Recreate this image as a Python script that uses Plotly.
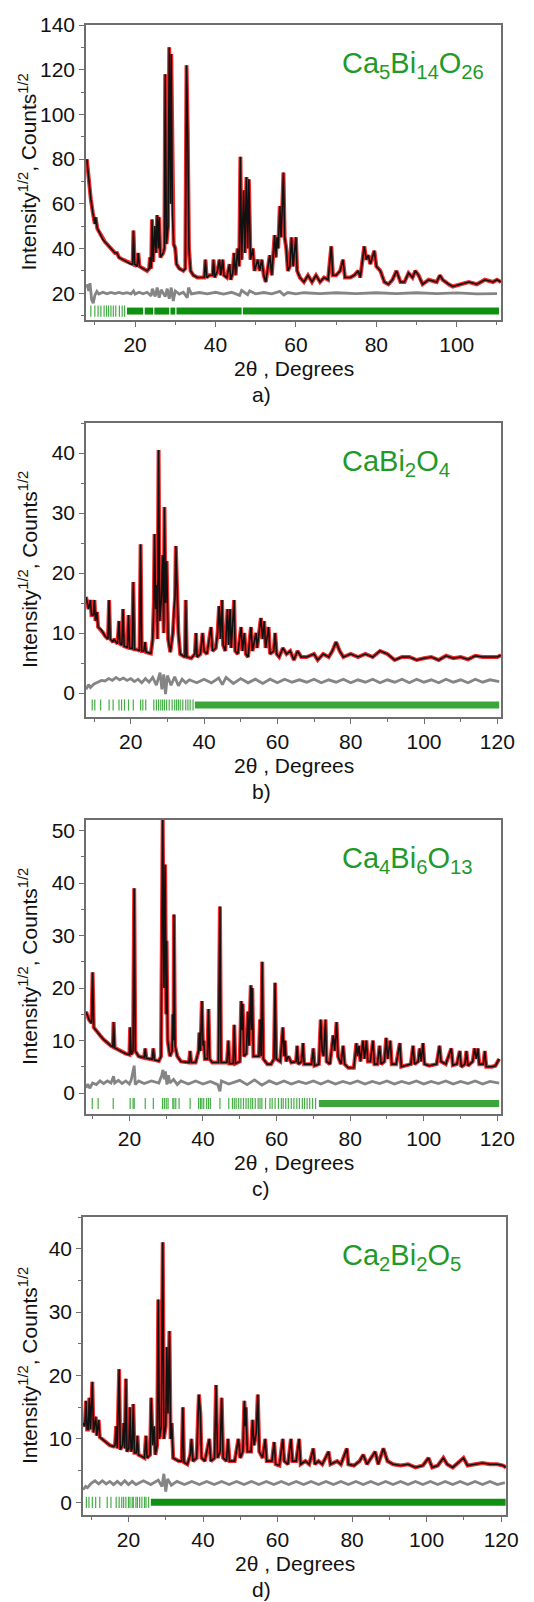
import plotly.graph_objects as go

# ---------------- data ----------------
# a) Ca5Bi14O26  (2theta, sqrt intensity) vertices of the fitted profile
a_profile = [(8.0, 80), (8.5, 70), (9.0, 62), (9.5, 56), (10.0, 51), (10.2, 54), (10.6, 49), (11.2, 47),
             (12, 44), (12.5, 43), (13, 42), (14, 40), (15, 38), (15.5, 38), (16, 36), (17, 35), (18, 34),
             (19, 33), (19.4, 33), (19.6, 48), (19.9, 33), (20.5, 32), (20.8, 38), (21.1, 32), (22, 31),
             (23, 30), (23.5, 31), (23.7, 36), (24.0, 31), (24.2, 53), (24.5, 34), (24.9, 50), (25.2, 38),
             (25.5, 55), (25.8, 40), (26.0, 54), (26.3, 36), (27.0, 38), (27.3, 40), (27.5, 118), (27.8, 42),
             (28.2, 50), (28.5, 130), (28.8, 60), (29.0, 127), (29.3, 55), (29.6, 42), (30.0, 40), (30.3, 33),
             (31, 31), (32, 30), (32.5, 31), (32.8, 122), (33.1, 92), (33.4, 40), (33.8, 30), (34.5, 28),
             (35.5, 27), (36.5, 27), (37.2, 27), (37.5, 35), (37.8, 27), (38.5, 28), (39.3, 28), (39.5, 35),
             (39.8, 27), (40.5, 30), (41.0, 35), (41.3, 28), (41.8, 35), (42.1, 28), (42.8, 27), (43.5, 33),
             (43.8, 26), (44.3, 29), (44.6, 38), (45.0, 28), (45.5, 40), (45.9, 32), (46.2, 81), (46.5, 35),
             (47.0, 66), (47.3, 38), (47.7, 72), (48.0, 40), (48.3, 71), (48.7, 35), (49.3, 40), (49.7, 30),
             (50.5, 35), (51, 30), (51.5, 35), (52, 28), (52.5, 25), (53.5, 37), (54.0, 28), (54.7, 46),
             (55.0, 36), (55.3, 45), (55.6, 40), (56.0, 59), (56.3, 45), (56.6, 58), (56.9, 74), (57.2, 45),
             (57.6, 40), (58.0, 30), (58.5, 32), (58.9, 45), (59.3, 32), (60.0, 45), (60.3, 30), (61, 27),
             (62, 25), (63, 28), (64, 25), (65, 28), (66, 25), (67, 27), (68, 26), (68.8, 41), (69.2, 28),
             (70, 28), (71.0, 30), (71.7, 35), (72.2, 27), (73.5, 27), (74.5, 28), (75.5, 30), (76, 27),
             (77.0, 41), (77.5, 35), (78, 37), (78.5, 33), (79.5, 39), (80, 32), (81, 30), (82, 25), (83, 24),
             (84, 26), (85, 30), (86, 25), (87, 25), (88, 29), (89, 27), (89.7, 30), (90.5, 28), (91.5, 24),
             (93, 26), (95, 25), (95.8, 28), (96.5, 26), (98, 24), (99, 23), (101, 24), (103, 25), (105, 24),
             (107, 26), (109, 25), (110, 26), (111, 25)]
a_diff = [(8, 24), (8.5, 21), (8.8, 24.5), (9.2, 17), (9.6, 15.5), (10, 19), (10.5, 20.8), (11, 19.6),
          (12, 20.4), (13, 19.7), (14, 20.3), (15, 19.8), (16, 20.3), (17, 19.8), (18, 20.2), (19, 19.7),
          (19.6, 21), (20, 19.6), (21, 20.4), (22, 19.7), (23, 20.4), (24, 18.8), (24.3, 22), (25, 18.5),
          (25.5, 22.5), (26, 18), (26.5, 21.5), (27.5, 18.5), (28, 22), (28.5, 17.5), (29, 22.5), (29.5, 16.5),
          (30, 21), (31, 19.6), (32, 20.4), (33, 18), (33.3, 22.5), (34, 19.7), (36, 20.3), (38, 19.7),
          (40, 20.4), (42, 19.6), (44, 20.4), (46, 19), (46.5, 21.2), (48, 19.3), (48.5, 21), (50, 19.7),
          (52, 20.3), (54, 19.7), (56, 20.8), (57, 19.2), (58, 20.3), (60, 19.7), (62, 20.2), (66, 19.8),
          (70, 20.2), (75, 19.8), (80, 20.2), (85, 19.8), (90, 20.2), (95, 19.8), (100, 20.1), (105, 19.7),
          (110, 19.8)]
a_refl = [9.0, 10.0, 10.8, 11.5, 12.3, 12.9, 13.4, 14.0, 14.6, 15.2, 16.1, 16.8, 17.4]
a_refl_bands = [(18, 22), (22.4, 24.5), (24.8, 28.5), (28.8, 30), (30.3, 46.5), (46.8, 110.5)]

# b) CaBi2O4
b_profile = [(7.8, 16), (8.5, 14), (9.0, 15.5), (9.3, 13), (9.8, 13), (10.1, 15.5), (10.4, 12), (10.8, 13.5),
             (11.1, 11), (12, 10.5), (12.5, 10), (13, 9.5), (13.8, 9), (14.1, 15.5), (14.4, 9), (15.2, 8.5),
             (15.4, 9), (16.4, 8.2), (16.8, 12), (17.1, 8.2), (17.6, 8), (17.9, 14), (18.2, 7.8), (19.1, 7.6),
             (19.4, 13), (19.7, 7.5), (20.4, 7.4), (20.7, 18.5), (21.0, 7.3), (22.0, 7.2), (22.4, 7),
             (22.7, 24.8), (23.0, 7), (23.6, 7), (23.9, 8.5), (24.2, 6.8), (25.5, 6.6), (26.0, 9), (26.3, 15),
             (26.5, 26.5), (26.8, 14), (27.1, 18), (27.3, 9), (27.6, 40.5), (27.9, 12), (28.3, 15), (28.7, 23),
             (29.0, 10), (29.2, 31), (29.5, 15), (29.8, 22), (30.2, 9), (30.8, 6.8), (31.5, 10), (31.8, 14),
             (32.1, 16), (32.3, 24.5), (32.6, 19), (33.0, 10), (33.5, 6.5), (34.5, 6), (34.8, 6), (35.0, 15.5),
             (35.3, 6), (36.5, 5.8), (37.5, 6.5), (37.8, 10), (38.1, 6), (39.0, 6.5), (39.6, 10), (40.0, 7),
             (40.8, 6.5), (41.9, 11), (42.3, 7), (43.2, 7.5), (43.7, 10), (44.1, 14.5), (44.5, 9), (44.9, 15.5),
             (45.2, 8), (45.8, 7), (46.4, 14), (46.7, 8), (47.1, 14), (47.4, 7.5), (48.2, 15.5), (48.5, 7),
             (49.2, 6.5), (50.1, 11), (50.5, 7), (51.0, 10), (51.4, 6.5), (52.0, 6), (52.8, 11), (53.2, 7),
             (54.2, 10), (54.5, 7.5), (55.0, 10), (55.5, 12.5), (56.0, 9), (56.4, 12), (56.8, 7.5), (57.6, 11),
             (58.0, 6.5), (59.0, 7), (59.4, 10), (59.8, 6.5), (60.5, 6), (61.5, 7.5), (62.5, 6.5), (63.5, 7),
             (64.5, 5.5), (65.5, 7), (66.5, 6), (68, 6), (70, 6.5), (71, 5.5), (72.5, 6.5), (74, 6), (75, 7),
             (76, 8.5), (77, 7), (78, 6), (80, 6.5), (82, 6), (84, 6.5), (86, 6), (88, 7), (90, 6.5), (92, 5.5),
             (94, 6), (96, 6), (98, 5.5), (100, 5.8), (102, 6), (104, 5.5), (106, 6.2), (108, 5.8), (110, 6),
             (112, 5.6), (114, 6.2), (116, 6), (118, 6), (120, 6), (121, 6.3)]
b_diff = [(7.8, 0.6), (8.5, 1.4), (9, 0.9), (10, 1.5), (11, 1.8), (12, 2.1), (13, 2.0), (14, 2.4), (15, 2.1),
          (16, 2.6), (17, 2.2), (18, 2.5), (19, 2.1), (20, 2.4), (21, 1.9), (22, 2.3), (23, 1.7), (24, 2.4),
          (25, 1.8), (26, 2.6), (27, 1.3), (28, 3.4), (28.5, 0.6), (29, 3.1), (29.5, -0.2), (30, 2.9),
          (31, 1.3), (32, 2.7), (33, 1.2), (34, 2.3), (35, 1.7), (36, 2.2), (38, 1.7), (40, 2.3), (42, 1.7),
          (44, 2.5), (45, 1.4), (46, 2.6), (48, 1.6), (50, 2.4), (52, 1.7), (54, 2.3), (56, 1.6), (58, 2.3),
          (60, 1.7), (62, 2.3), (64, 1.8), (66, 2.2), (68, 1.8), (70, 2.3), (72, 1.7), (74, 2.2), (76, 1.8),
          (78, 2.3), (80, 1.7), (82, 2.2), (84, 1.8), (86, 2.3), (88, 1.7), (90, 2.2), (92, 1.8), (94, 2.3),
          (96, 1.7), (98, 2.3), (100, 1.8), (102, 2.2), (104, 1.7), (106, 2.3), (108, 1.8), (110, 2.2),
          (112, 1.7), (114, 2.3), (116, 1.8), (118, 2.2), (120.5, 1.9)]
b_refl = [9.5, 10.2, 11.8, 14.1, 15.2, 16.8, 17.5, 18.3, 19.4, 20.7, 22.7, 23.3, 24.1, 26.3, 27.0, 27.6,
          28.2, 28.7, 29.2, 29.8, 30.5, 31.3, 32.0, 32.5, 33.0, 33.5, 34.2, 35.0, 35.6, 36.2, 37.0]
b_refl_bands = [(37.5, 120.5)]

# c) Ca4Bi6O13
c_profile = [(8.2, 15.5), (9, 14), (9.7, 13.3), (10.0, 23), (10.3, 12.5), (11, 11.8), (12, 11), (13, 10.2),
             (14, 9.5), (15, 9), (15.5, 8.8), (15.7, 13.5), (16.0, 8.6), (17, 8.2), (18, 7.8), (19, 7.5),
             (20.0, 7.3), (20.2, 12.5), (20.5, 7.3), (21.0, 8), (21.3, 39), (21.6, 8), (22.5, 7), (24.0, 6.7),
             (24.3, 8.5), (24.6, 6.6), (26.2, 6.4), (26.5, 8.5), (26.8, 6.3), (28, 6.1), (28.6, 7), (29.05, 52),
             (29.4, 20), (29.7, 43.5), (30.0, 15), (30.1, 29), (30.4, 10), (31, 7), (31.6, 8), (31.8, 15),
             (32.0, 10), (32.1, 34), (32.4, 9), (33, 7), (34, 6), (35.5, 5.8), (36.2, 5.8), (36.5, 8),
             (36.8, 5.8), (38, 5.8), (38.8, 8), (39.0, 11.5), (39.3, 8), (39.7, 17.5), (40.0, 9), (40.2, 10),
             (40.5, 6.5), (41.2, 6.5), (41.5, 16), (41.8, 6.5), (42.5, 5.8), (44.2, 5.8), (44.6, 35.5),
             (44.9, 5.8), (46.5, 5.8), (46.9, 10), (47.2, 5.6), (48.2, 5.6), (48.5, 13), (48.8, 5.6), (50.0, 6),
             (50.4, 17.5), (50.6, 12), (50.8, 17), (51.1, 7), (51.8, 7.5), (52.2, 15.5), (52.5, 9), (53.0, 20.5),
             (53.2, 12), (53.4, 20), (53.7, 7), (55.2, 7), (55.5, 14), (55.8, 7), (56.1, 25), (56.4, 6.5),
             (57.5, 5.5), (58.5, 5.5), (59.3, 6.5), (59.6, 21), (59.9, 6.5), (61.0, 6), (61.7, 12.5), (62.0, 7),
             (62.3, 10), (62.6, 6), (63.2, 7), (64.0, 5.8), (65.3, 6), (65.6, 9), (65.9, 5.5), (66.8, 6),
             (67.2, 9.5), (67.5, 5.5), (69.5, 5.5), (70.0, 8.5), (70.3, 5.2), (71.5, 5.5), (72.0, 14), (72.4, 8),
             (72.8, 7), (73.3, 14), (73.6, 6), (74.5, 5.5), (75.4, 11), (75.8, 8), (76.3, 13.5), (76.7, 7),
             (77.5, 5.5), (78.1, 9), (78.5, 5.5), (79.5, 4.8), (81.0, 4.8), (81.7, 9.5), (82.0, 7), (82.4, 9),
             (82.8, 6), (83.5, 10), (83.9, 6.5), (84.4, 10), (84.8, 6), (85.5, 6), (86.2, 10), (86.6, 5.5),
             (87.4, 5.5), (88.0, 9), (88.4, 5.5), (89.3, 6), (89.8, 10.5), (90.2, 6.5), (90.9, 10), (91.3, 5.5),
             (92.5, 5.5), (93.5, 9.5), (93.9, 5), (95.5, 5.3), (96.5, 5.5), (97.1, 9), (97.5, 5.5), (98.5, 6),
             (98.9, 8.5), (99.3, 6), (99.8, 9.5), (100.2, 5.5), (101.5, 5.2), (103.5, 5.5), (104.3, 9),
             (104.7, 6), (106, 5.5), (107.5, 8.5), (107.9, 5.3), (109, 5.5), (109.8, 8), (110.2, 5),
             (111.2, 5.5), (111.6, 8), (112, 5.2), (113.3, 6), (113.8, 8.5), (114.3, 6.5), (114.7, 8.5),
             (115.1, 5.5), (116.2, 5.5), (116.6, 8), (117, 5), (118.5, 5), (119.5, 5.2), (120.5, 6.5)]
c_diff = [(8.2, 1.0), (8.7, 1.7), (9.2, 0.9), (10, 1.9), (11, 1.6), (12, 2.3), (13, 1.8), (14, 2.3), (15, 1.9),
          (15.7, 3.2), (16, 1.9), (17, 2.4), (18, 1.8), (19, 2.3), (20, 1.7), (20.5, 2.5), (21.3, 5.2),
          (21.6, 1.6), (22.5, 2.3), (24, 1.8), (26, 2.3), (28, 1.9), (28.8, 3.4), (29.1, 4.4), (29.5, 2.6),
          (29.8, 4.1), (30.2, 1.6), (30.6, 3.4), (31, 1.9), (32, 2.6), (33, 1.6), (34, 2.3), (36, 1.7),
          (38, 2.3), (40, 1.7), (42, 2.2), (44, 1.6), (44.6, 0.3), (45, 2.3), (47, 1.7), (50, 2.4), (52, 1.6),
          (54, 2.5), (56, 1.5), (58, 2.3), (60, 1.7), (62, 2.3), (64, 1.7), (66, 2.2), (68, 1.8), (70, 2.3),
          (72, 1.7), (74, 2.3), (76, 1.7), (78, 2.2), (80, 1.8), (82, 2.3), (84, 1.7), (86, 2.2), (88, 1.8),
          (90, 2.3), (92, 1.7), (94, 2.2), (96, 1.8), (98, 2.3), (100, 1.7), (102, 2.2), (104, 1.8),
          (106, 2.3), (108, 1.7), (110, 2.2), (112, 1.8), (114, 2.3), (116, 1.7), (118, 2.2), (120.5, 1.9)]
c_refl = [9.9, 11.5, 15.6, 20.2, 21.0, 21.3, 24.3, 26.5, 29.0, 29.5, 30.0, 30.5, 31.8, 32.1, 32.6, 33.5,
          36.5, 38.8, 39.3, 39.7, 40.2, 41.0, 41.5, 42.0, 44.6, 47.0, 48.0, 48.5, 49.0, 49.7, 50.3, 51.0,
          51.7, 52.3, 53.0, 53.5, 54.2, 55.0, 55.5, 56.0, 57.0, 58.2, 58.8, 59.6, 60.5, 61.3, 61.8, 62.5,
          63.2, 64.0, 64.7, 65.5, 66.2, 67.0, 67.6, 68.3, 69.0, 69.8, 70.6]
c_refl_bands = [(71.5, 120.5)]

# d) Ca2Bi2O5
d_profile = [(7.8, 12.5), (8.3, 12), (8.6, 16), (8.9, 11.5), (9.2, 11.5), (9.5, 16.5), (9.8, 11.5), (10.3, 19),
             (10.6, 11), (11.2, 13.5), (11.5, 10.5), (12.0, 13), (12.3, 10.3), (13, 10), (14, 9.5), (15, 9),
             (16, 8.8), (16.4, 9), (16.7, 12), (17.0, 8.5), (17.5, 21), (17.8, 8.3), (18.4, 9), (18.7, 12.5),
             (19.0, 8.5), (19.3, 19.5), (19.6, 8), (20.1, 8.5), (20.4, 15), (20.7, 8), (21.0, 8.5), (21.3, 15.5),
             (21.6, 7.8), (22.1, 7.8), (22.4, 10.5), (22.7, 7.5), (24.3, 7), (24.7, 10.5), (25.0, 7), (25.8, 7.5),
             (26.1, 16.5), (26.5, 9), (26.9, 12), (27.2, 7.5), (27.7, 9), (28.0, 32), (28.3, 10), (28.8, 12),
             (29.2, 41), (29.5, 10), (30.0, 12), (30.3, 24.5), (30.6, 14), (31.0, 27), (31.3, 10), (31.6, 12.5),
             (32.0, 7), (33.5, 6.5), (34.3, 6.5), (34.6, 15), (34.9, 6.3), (35.8, 6), (36.6, 7.5), (36.9, 10),
             (37.3, 6.5), (38.3, 7), (38.7, 14), (38.9, 17), (39.3, 14), (39.6, 7), (40.5, 6.5), (41.0, 8),
             (41.7, 10), (42.1, 6.5), (43.1, 7), (43.5, 18.5), (43.9, 7), (44.6, 8), (45.0, 16.5), (45.4, 7),
             (46.3, 6.5), (46.7, 10), (47.1, 6.5), (48.5, 6.5), (49.5, 10), (50.0, 7), (50.7, 8), (51.1, 16),
             (51.3, 12), (51.5, 15), (51.9, 8), (52.9, 8), (53.3, 13), (53.7, 9), (54.3, 11), (54.7, 17),
             (55.1, 8), (56.0, 7), (56.7, 10), (57.1, 6.5), (58.5, 6.5), (59.1, 9.5), (59.5, 6), (60.5, 5.8),
             (61.4, 10), (61.8, 6.5), (62.8, 6), (63.6, 10), (64.0, 6.5), (65.0, 6.5), (65.8, 10), (66.2, 6),
             (67.5, 6.5), (68.5, 6), (69.6, 8.5), (70.0, 6), (71, 6.5), (72, 6), (73.7, 8), (74.2, 6), (76, 6.5),
             (77, 6), (78.6, 8.5), (79, 6), (80.5, 5.8), (82, 6.5), (83, 7.5), (84, 6), (86.2, 8), (87, 6),
             (88.4, 8.5), (89.5, 6.5), (91, 6), (93, 5.8), (95, 6), (97, 5.5), (99, 5.8), (100.5, 7),
             (101.5, 5.5), (103, 5.8), (104.5, 7), (105.5, 6), (107, 5.5), (109.9, 7), (111, 5.8), (113, 6),
             (115, 6.2), (117, 6), (119, 6), (120.5, 5.8), (121.3, 5.5)]
d_diff = [(7.8, 2.0), (8.5, 2.5), (9, 2.3), (10, 3.0), (11, 3.4), (12, 2.9), (13, 3.4), (14, 2.9), (15, 3.3),
          (16, 2.8), (17, 3.3), (18, 2.8), (19, 3.4), (20, 2.8), (21, 3.3), (22, 2.8), (24, 3.4), (26, 2.8),
          (28, 3.5), (29, 2.5), (29.5, 4.5), (30, 1.7), (30.5, 3.7), (31.5, 2.7), (33, 3.3), (35, 2.8),
          (37, 3.3), (39, 2.8), (41, 3.3), (43, 2.8), (45, 3.3), (47, 2.8), (49, 3.3), (51, 2.8), (53, 3.3),
          (55, 2.8), (57, 3.3), (59, 2.8), (61, 3.3), (63, 2.8), (65, 3.3), (67, 2.8), (69, 3.3), (71, 2.8),
          (73, 3.3), (75, 2.8), (77, 3.3), (79, 2.8), (81, 3.3), (83, 2.8), (85, 3.3), (87, 2.8), (89, 3.3),
          (91, 2.8), (93, 3.3), (95, 2.8), (97, 3.3), (99, 2.8), (101, 3.3), (103, 2.8), (105, 3.3),
          (107, 2.8), (109, 3.3), (111, 2.8), (113, 3.3), (115, 2.8), (117, 3.3), (119, 2.8), (121, 3.1)]
d_refl = [8.7, 9.4, 10.3, 11.2, 12.3, 14.3, 15.3, 16.7, 17.5, 18.2, 18.7, 19.3, 20.0, 20.4, 21.0, 21.3,
          22.0, 22.4, 23.0, 23.6, 24.3, 24.7, 25.4]
d_refl_bands = [(26, 121.2)]

formulas = ["Ca<sub>5</sub>Bi<sub>14</sub>O<sub>26</sub>", "CaBi<sub>2</sub>O<sub>4</sub>",
            "Ca<sub>4</sub>Bi<sub>6</sub>O<sub>13</sub>", "Ca<sub>2</sub>Bi<sub>2</sub>O<sub>5</sub>"]
captions = ["a)", "b)", "c)", "d)"]
refl_level = [12, -2, -2, 0]
x_ranges = [[7.8, 111], [7.8, 121], [8.2, 121], [7.8, 121.3]]
y_ranges = [[8, 140], [-4, 45], [-4, 52], [-2, 45]]
y_dtick = [20, 10, 10, 10]

panels = [(a_profile, a_diff, a_refl, a_refl_bands), (b_profile, b_diff, b_refl, b_refl_bands),
          (c_profile, c_diff, c_refl, c_refl_bands), (d_profile, d_diff, d_refl, d_refl_bands)]

# ---------------- layout geometry (page pixels) ----------------
PAGE_W, PAGE_H = 534, 1602
OFF = 8   # default body margin of the html page
W, H = PAGE_W - OFF, PAGE_H - OFF
frames = [(86, 501, 25, 320), (86, 501, 423, 717), (86, 501, 820, 1114), (83, 506, 1217, 1515)]
FONT = "Liberation Sans, Arial, sans-serif"
GREEN = "#1f9a2a"


def fx(p):
    return (p - OFF) / W


def fy(p):
    return 1 - (p - OFF) / H


fig = go.Figure()
ann = []
for i, (prof, diff, refl, bands) in enumerate(panels):
    n = "" if i == 0 else str(i + 1)
    xa, ya = "x" + n, "y" + n
    px = [p[0] for p in prof]
    py = [p[1] for p in prof]
    # observed (red) and calculated (black)
    fig.add_trace(go.Scatter(x=px, y=py, mode="lines", line=dict(color="#ee2a2a", width=4),
                             xaxis=xa, yaxis=ya, showlegend=False))
    fig.add_trace(go.Scatter(x=px, y=py, mode="lines", line=dict(color="#111111", width=1.6),
                             xaxis=xa, yaxis=ya, showlegend=False))
    # difference curve
    fig.add_trace(go.Scatter(x=[p[0] for p in diff], y=[p[1] for p in diff], mode="lines",
                             line=dict(color="#858585", width=2.8), xaxis=xa, yaxis=ya, showlegend=False))
    # Bragg reflection ticks
    lvl = refl_level[i]
    fig.add_trace(go.Scatter(x=refl, y=[lvl] * len(refl), mode="markers",
                             marker=dict(symbol="line-ns-open", size=8, color="#45ad45",
                                         line=dict(color="#45ad45", width=1.2)),
                             xaxis=xa, yaxis=ya, showlegend=False))
    bx, by = [], []
    for s, e in bands:
        bx += [s, e, None]
        by += [lvl, lvl, None]
    fig.add_trace(go.Scatter(x=bx, y=by, mode="lines",
                             line=dict(color="#109010" if i in (0, 3) else "#3aa63a", width=7),
                             xaxis=xa, yaxis=ya, showlegend=False))

    l, r, t, b = frames[i]
    axis_common = dict(showline=True, linecolor="#6e6e6e", linewidth=1.5, mirror=True, ticks="outside",
                       ticklen=5, tickwidth=1.2, tickcolor="#6e6e6e", showgrid=False, zeroline=False,
                       automargin=False, tickfont=dict(family=FONT, size=21, color="#111111"))
    fig.layout["xaxis" + n] = dict(axis_common, domain=[fx(l), fx(r)], range=x_ranges[i], anchor=ya,
                                   tick0=0, dtick=20,
                                   minor=dict(dtick=10, ticks="outside", ticklen=3, tickcolor="#6e6e6e"))
    fig.layout["yaxis" + n] = dict(axis_common, domain=[fy(b), fy(t)], range=y_ranges[i], anchor=xa,
                                   tick0=0, dtick=y_dtick[i],
                                   minor=dict(dtick=y_dtick[i] / 2, ticks="outside", ticklen=3,
                                              tickcolor="#6e6e6e"))
    ann.append(dict(text=formulas[i], x=fx(340), y=fy(t + 40), xref="paper", yref="paper",
                    xanchor="left", yanchor="middle", showarrow=False,
                    font=dict(family=FONT, size=29, color=GREEN)))
    ann.append(dict(text="2\u03b8 , Degrees", x=fx((l + r) / 2), y=fy(b + 48), xref="paper", yref="paper",
                    xanchor="center", yanchor="middle", showarrow=False,
                    font=dict(family=FONT, size=21, color="#111111")))
    ann.append(dict(text=captions[i], x=fx(261), y=fy(b + 74), xref="paper", yref="paper",
                    xanchor="center", yanchor="middle", showarrow=False,
                    font=dict(family=FONT, size=21, color="#111111")))
    ann.append(dict(text="Intensity<sup>1/2</sup>, Counts<sup>1/2</sup>", x=fx(28), y=fy((t + b) / 2),
                    xref="paper", yref="paper", xanchor="center", yanchor="middle", textangle=-90,
                    showarrow=False, font=dict(family=FONT, size=21, color="#111111")))

fig.update_layout(width=W, height=H, margin=dict(l=0, r=0, t=0, b=0, autoexpand=False),
                  plot_bgcolor="white", paper_bgcolor="white", annotations=ann)
fig.write_html("out.html")
